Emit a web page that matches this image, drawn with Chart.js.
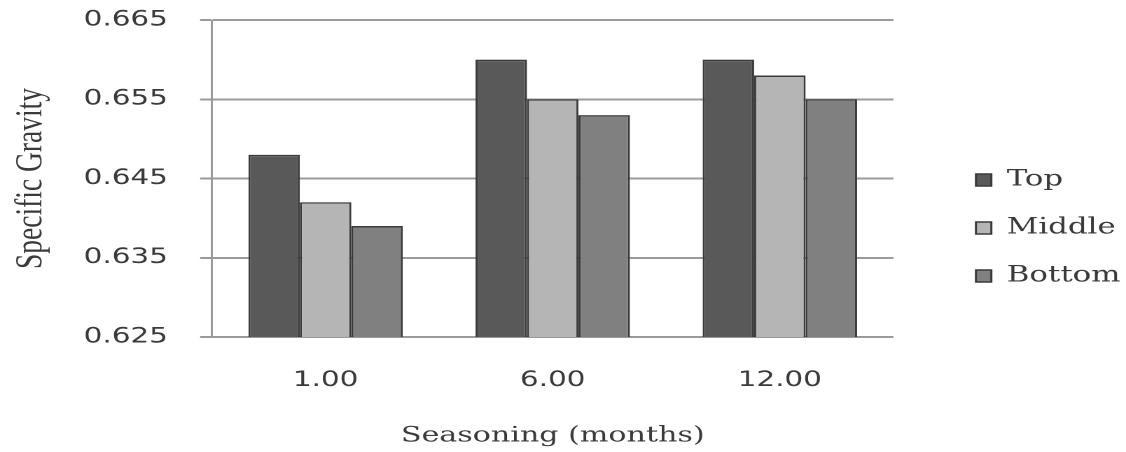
<!DOCTYPE html>
<html>
<head>
<meta charset="utf-8">
<script src="https://cdn.jsdelivr.net/npm/chart.js@4/dist/chart.umd.min.js"></script>
<style>
  html, body { margin: 0; padding: 0; background: #ffffff; overflow: hidden; }
  #wrap { width: 804px; height: 452px; transform: scaleX(1.40050); transform-origin: 0 0; }
</style>
</head>
<body>
<div id="wrap"><canvas id="c" width="804" height="452"></canvas></div>
<script>
const categories = ['1.00', '6.00', '12.00'];
const topValues = [0.648, 0.660, 0.660];
const middleValues = [0.642, 0.655, 0.658];
const bottomValues = [0.639, 0.653, 0.655];
const seriesNames = ['Top', 'Middle', 'Bottom'];
const yMin = 0.625, yMax = 0.665, yStep = 0.01;

const textColor = '#3a3a3a';
const gridColor = '#9a9a9a';

new Chart(document.getElementById('c'), {
  type: 'bar',
  data: {
    labels: categories,
    datasets: [
      { label: seriesNames[0], data: topValues, backgroundColor: '#595959', borderColor: '#3a3a3a', borderWidth: 1.5 },
      { label: seriesNames[1], data: middleValues, backgroundColor: '#b5b5b5', borderColor: '#3a3a3a', borderWidth: 1.5 },
      { label: seriesNames[2], data: bottomValues, backgroundColor: '#808080', borderColor: '#3a3a3a', borderWidth: 1.5 }
    ]
  },
  options: {
    responsive: false,
    animation: false,
    devicePixelRatio: 2,
    layout: { padding: { left: 0, right: -1, top: 4, bottom: 0 } },
    datasets: { bar: { categoryPercentage: 0.68, barPercentage: 1.0 } },
    plugins: {
      tooltip: { enabled: false },
      legend: {
        position: 'right',
        align: 'center',
        labels: {
          boxWidth: 11,
          boxHeight: 12,
          padding: 26,
          color: textColor,
          font: { family: 'DejaVu Serif', size: 22 }
        }
      }
    },
    scales: {
      x: {
        position: 'bottom',
        grid: { display: false, drawTicks: false },
        border: { display: false },
        ticks: { color: textColor, padding: 31, font: { family: 'DejaVu Sans', size: 21 } },
        title: { display: true, text: 'Seasoning (months)', color: textColor, padding: { top: 4, bottom: 3 }, font: { family: 'DejaVu Serif', size: 21.5 } },
        afterFit: s => { s.height = 115; }
      },
      xTop: {
        type: 'category',
        position: 'top',
        display: true,
        grid: { display: false, drawTicks: false },
        border: { display: false },
        ticks: { display: false },
        afterFit: s => { s.height = 16; }
      },
      y: {
        min: yMin,
        max: yMax,
        ticks: {
          stepSize: yStep,
          color: textColor,
          padding: 23,
          font: { family: 'DejaVu Sans', size: 21 },
          callback: v => Number(v).toFixed(3)
        },
        grid: { color: gridColor, lineWidth: 2, tickLength: 8.5 },
        border: { display: true, color: gridColor, width: 1.5 },
        title: { display: true, text: 'Specific Gravity', color: textColor, padding: { top: 6, bottom: 0 }, font: { family: 'Liberation Serif', size: 27.5 } },
        afterFit: s => { s.width = 151.4; s.paddingTop = 10; s.paddingBottom = 10; }
      },
      y2: {
        position: 'right',
        display: true,
        grid: { display: false, drawTicks: false },
        border: { display: false },
        ticks: { display: false },
        afterFit: s => { s.width = 32.9; }
      }
    }
  }
});
</script>
</body>
</html>
